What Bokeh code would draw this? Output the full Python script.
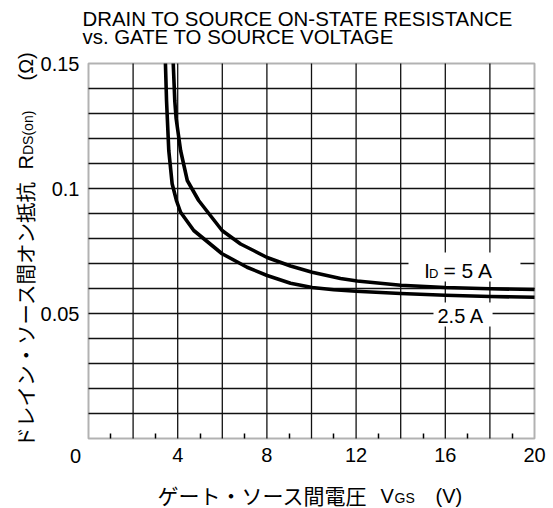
from math import pi
from bokeh.plotting import figure
from bokeh.models import FixedTicker, Label, Range1d, BoxAnnotation, LinearAxis
from bokeh.embed import file_html
from bokeh.resources import INLINE

# ---- data ----
vgs_5a = [3.80, 3.87, 3.93, 4.13, 4.43, 4.94, 5.99, 6.82, 7.40, 8.01, 9.06, 10.03, 11.3, 12.05, 14.0, 16.0, 18.0, 20.0]
rds_5a = [0.150, 0.135, 0.128, 0.1152, 0.1032, 0.0952, 0.0832, 0.0778, 0.0752, 0.0724, 0.0690, 0.0665, 0.0640, 0.0630, 0.0613, 0.0604, 0.0599, 0.0596]

vgs_2a5 = [3.45, 3.50, 3.60, 3.75, 3.95, 4.13, 4.72, 5.99, 7.11, 8.01, 9.06, 10.03, 11.0, 12.0, 14.0, 16.0, 18.0, 20.0]
rds_2a5 = [0.150, 0.135, 0.1152, 0.1019, 0.0950, 0.0905, 0.0832, 0.0739, 0.0685, 0.0652, 0.0621, 0.0604, 0.0595, 0.0589, 0.0580, 0.0573, 0.0568, 0.0565]

x_ticks = [4, 8, 12, 16, 20]
x_minor_ticks = [1, 3, 5, 7, 9, 11, 13, 15, 17, 19]
x_grid_ticks = [2, 4, 6, 8, 10, 12, 14, 16, 18]
y_ticks = [0.05, 0.1, 0.15]
y_tick_labels = ["0.05", "0.1", "0.15"]
y_grid_ticks = [0.01, 0.02, 0.03, 0.04, 0.05, 0.06, 0.07, 0.08, 0.09, 0.10, 0.11, 0.12, 0.13, 0.14]

X_MIN, X_MAX = 0, 20
Y_MIN, Y_MAX = 0, 0.15

LAT = "Liberation Sans"
JP = "Noto Sans CJK JP"

W, H = 553, 508
# chart box at x 88..534 px, y 63..438 px of the canvas
PX_PER_V = 446 / 20
PX_PER_OHM = 375 / 0.15
x0 = -88 / PX_PER_V
y0 = -(H - 438) / PX_PER_OHM

p = figure(width=W, height=H,
           x_range=Range1d(x0, x0 + W / PX_PER_V),
           y_range=Range1d(y0, y0 + H / PX_PER_OHM),
           output_backend="svg", toolbar_location=None, title=None,
           x_axis_type=None, y_axis_type=None, min_border=0)
p.background_fill_color = "white"
p.border_fill_color = "white"
p.outline_line_color = None

# axes fixed at the chart box edges
xaxis = LinearAxis(fixed_location=Y_MIN, bounds=(X_MIN, X_MAX),
                   ticker=FixedTicker(ticks=x_ticks, minor_ticks=x_minor_ticks))
xaxis.axis_line_color = None
xaxis.major_tick_line_color = None
xaxis.minor_tick_in = 5
xaxis.minor_tick_out = 0
xaxis.minor_tick_line_color = "black"
xaxis.minor_tick_line_width = 1.5
xaxis.major_label_standoff = 3
xaxis.major_label_text_font = LAT
xaxis.major_label_text_font_size = "20px"
xaxis.major_label_text_color = "black"
p.add_layout(xaxis, "below")

yaxis = LinearAxis(fixed_location=X_MIN, bounds=(Y_MIN, Y_MAX),
                   ticker=FixedTicker(ticks=y_ticks, minor_ticks=[]))
yaxis.major_label_overrides = dict(zip(y_ticks, y_tick_labels))
yaxis.axis_line_color = None
yaxis.major_tick_line_color = None
yaxis.minor_tick_line_color = None
yaxis.major_label_standoff = 3
yaxis.major_label_text_font = LAT
yaxis.major_label_text_font_size = "20px"
yaxis.major_label_text_color = "black"
p.add_layout(yaxis, "left")

# grid lines inside the chart box
p.segment(x0=x_grid_ticks, y0=Y_MIN, x1=x_grid_ticks, y1=Y_MAX, line_color="#111111", line_width=1.3)
p.segment(x0=X_MIN, y0=y_grid_ticks, x1=X_MAX, y1=y_grid_ticks, line_color="#111111", line_width=1.3)

# curves
p.line(vgs_5a, rds_5a, line_color="black", line_width=3.6, line_join="round")
p.line(vgs_2a5, rds_2a5, line_color="black", line_width=3.6, line_join="round")

# chart box outline
p.add_layout(BoxAnnotation(left=X_MIN, right=X_MAX, bottom=Y_MIN, top=Y_MAX,
                           fill_color=None, line_color="black", line_width=2))

# white masks behind curve labels
p.add_layout(BoxAnnotation(left=14.35, right=19.37, bottom=0.0628, top=0.0744,
                           fill_color="white", fill_alpha=1.0, line_color=None))
p.add_layout(BoxAnnotation(left=15.47, right=18.12, bottom=0.0448, top=0.0544,
                           fill_color="white", fill_alpha=1.0, line_color=None))


def lab(px, py, text, size=20, font=LAT, angle=0.0, align="left"):
    # px, py: canvas pixel position of the text's vertical middle, as data units
    p.add_layout(Label(x=x0 + px / PX_PER_V, y=y0 + (H - py) / PX_PER_OHM,
                       text=text, text_font=font, text_font_size=f"{size}px",
                       text_color="black", angle=angle, text_align=align,
                       text_baseline="middle"))


# curve labels
lab(423.8, 270, "I")
lab(428.5, 272.5, "D", size=13)
lab(443, 269.7, "= 5 A", size=21)
lab(437, 315, "2.5 A")

# origin "0"
lab(75, 455, "0", align="center")

# title
lab(82, 18, "DRAIN TO SOURCE ON-STATE RESISTANCE", size=20.4)
lab(82, 36, "vs. GATE TO SOURCE VOLTAGE", size=20.4)

# y-axis title (rotated, reads bottom to top)
lab(24, 447, "ドレイン・ソース間オン抵抗", size=20.5, font=JP, angle=pi / 2)
lab(25, 169, "R", angle=pi / 2)
lab(27.5, 154.5, "DS(on)", size=14, angle=pi / 2)
lab(25, 80, "(Ω)", angle=pi / 2)

# x-axis title
lab(157, 494, "ゲート・ソース間電圧", size=21, font=JP)
lab(380, 495, "V")
lab(394, 497, "GS", size=14)
lab(435, 495, "(V)")

open("out.html", "w").write(file_html(p, INLINE))
